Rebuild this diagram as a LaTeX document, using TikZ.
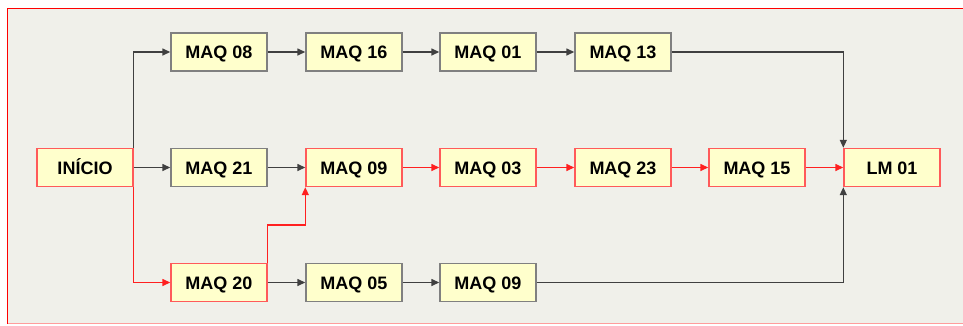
\documentclass[tikz,border=0pt]{standalone}
\usepackage{fontspec}
\setmainfont{Liberation Sans}
\usetikzlibrary{arrows.meta,calc}
\definecolor{bg}{HTML}{F0F0EA}
\definecolor{boxfill}{HTML}{FFFFCC}
\definecolor{gline}{HTML}{404040}
\definecolor{gbord}{HTML}{808080}
\definecolor{rline}{HTML}{FF2020}
\definecolor{rbord}{HTML}{FF5A5A}
\tikzset{
  mbox/.style={draw, fill=boxfill, line width=1.4pt, minimum width=96pt, minimum height=38pt, inner sep=0pt,
    text height=13pt, text depth=0pt,
    font=\fontsize{18}{20}\selectfont\bfseries},
  gbox/.style={mbox, draw=gbord},
  rbox/.style={mbox, draw=rbord},
  garr/.style={draw=gline, line width=1.4pt, -{Triangle[length=8pt,width=7pt]}},
  rarr/.style={draw=rline, line width=1.4pt, -{Triangle[length=8pt,width=7pt]}},
}
\begin{document}
\begin{tikzpicture}[x=1pt,y=-1pt]
\useasboundingbox (0,0) rectangle (963,325);
\fill[bg] (7.5,8.5) rectangle (963,323.5);
\draw[rbord!60, line width=1pt] (7.5,323.5) -- (963,323.5);
\draw[red, line width=1.3pt] (7.5,323.5) -- (7.5,8.5) -- (963,8.5);
% row 1
\node[rbox] (ini) at (85,167.5) {INÍCIO};
\node[gbox] (m08) at (219,52) {MAQ 08};
\node[gbox] (m16) at (354,52) {MAQ 16};
\node[gbox] (m01) at (488,52) {MAQ 01};
\node[gbox] (m13) at (623,52) {MAQ 13};
% row 2
\node[gbox] (m21) at (219,167.5) {MAQ 21};
\node[rbox] (m09) at (354,167.5) {MAQ 09};
\node[rbox] (m03) at (488,167.5) {MAQ 03};
\node[rbox] (m23) at (623,167.5) {MAQ 23};
\node[rbox] (m15) at (757,167.5) {MAQ 15};
\node[rbox] (lm) at (892,167.5) {LM 01};
% row 3
\node[rbox] (m20) at (219,282.5) {MAQ 20};
\node[gbox] (m05) at (354,282.5) {MAQ 05};
\node[gbox] (m09b) at (488,282.5) {MAQ 09};
\coordinate (jn) at (m09.south west |- 0,225);
% connectors
\draw[garr] (ini.north east) |- (m08.west);
\draw[garr] (ini) -- (m21);
\draw[rarr] (ini.south east) |- (m20.west);
\draw[garr] (m08) -- (m16);
\draw[garr] (m16) -- (m01);
\draw[garr] (m01) -- (m13);
\draw[garr] (m13.east) -| (lm.north west);
\draw[garr] (m21) -- (m09);
\draw[rarr] (m09) -- (m03);
\draw[rarr] (m03) -- (m23);
\draw[rarr] (m23) -- (m15);
\draw[rarr] (m15) -- (lm);
\draw[rarr] (m20.north east) |- (jn) -- (m09.south west);
\draw[garr] (m20) -- (m05);
\draw[garr] (m05) -- (m09b);
\draw[garr] (m09b.east) -| (lm.south west);
\end{tikzpicture}
\end{document}
